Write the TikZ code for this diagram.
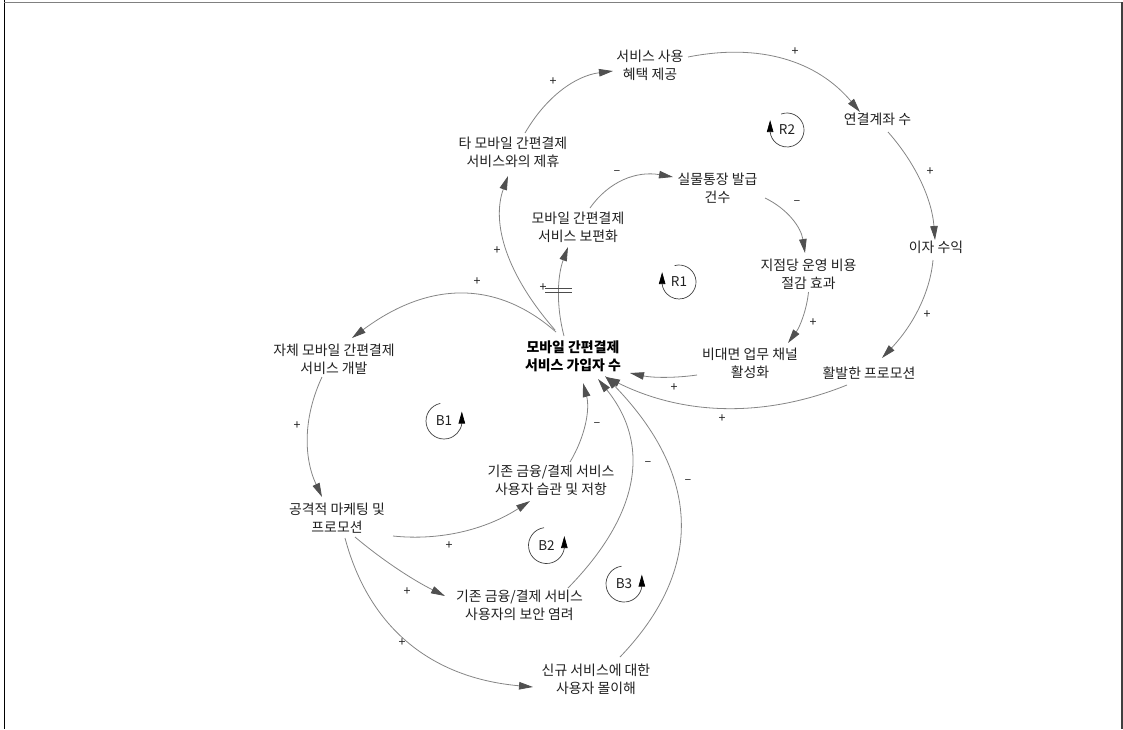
\documentclass[tikz,border=0pt]{standalone}
\usepackage{fontspec}
\setmainfont{Noto Sans CJK KR}
\usetikzlibrary{arrows.meta,calc}
\definecolor{linegray}{HTML}{858585}
\definecolor{headgray}{HTML}{505050}
\definecolor{txt}{HTML}{202020}
\begin{document}
\begin{tikzpicture}[x=1pt,y=-1pt,
  var/.style={align=center,inner sep=0pt,text=txt,font=\fontsize{13.9}{18}\selectfont},
  mainvar/.style={var,font=\fontsize{13.9}{18}\selectfont\bfseries,text=black},
  conn/.style={draw=linegray,line width=0.8pt,-{Triangle[length=14pt,width=7.5pt,color=headgray]}},
  sign/.style={inner sep=0pt,text=txt,font=\fontsize{12.5}{12.5}\selectfont},
  loopsym/.style={draw=black!75,line width=0.7pt,-{Triangle[length=12pt,width=6.5pt,color=black]}},
  looplab/.style={inner sep=0pt,text=txt,font=\fontsize{13.5}{13.5}\selectfont},
  delaymark/.style={draw=black!70,line width=0.7pt},
  frameline/.style={line width=1.2pt}]
\useasboundingbox (0,0) rectangle (1123,729);
% frame
\draw[frameline,draw=black] (4.7,0) -- (4.7,729);
\draw[frameline,draw=black!50] (4,2.7) -- (1123,2.7);
\draw[frameline,draw=black!75] (1122,2) -- (1122,729);

% variables
\node[var] (svc) at (650,65.5) {서비스 사용\\혜택 제공};
\node[var] (acct) at (877.5,119) {연결계좌 수};
\node[var] (tamob) at (513,152) {타 모바일 간편결제\\서비스와의 제휴};
\node[var] (phys) at (717.5,188.5) {실물통장 발급\\건수};
\node[var] (univ) at (578,227.5) {모바일 간편결제\\서비스 보편화};
\node[var] (intr) at (936,247) {이자 수익};
\node[var] (branch) at (808.5,274) {지점당 운영 비용\\절감 효과};
\node[mainvar] (main) at (573,356) {모바일 간편결제\\서비스 가입자 수};
\node[var] (nonface) at (750,363) {비대면 업무 채널\\활성화};
\node[var] (promo) at (869,373) {활발한 프로모션};
\node[var] (selfdev) at (334,359) {자체 모바일 간편결제\\서비스 개발};
\node[var] (habit) at (551,480) {기존 금융/결제 서비스\\사용자 습관 및 저항};
\node[var] (mkt) at (337,518.5) {공격적 마케팅 및\\프로모션};
\node[var] (secu) at (519.5,605.5) {기존 금융/결제 서비스\\사용자의 보안 염려};
\node[var] (mis) at (596,679) {신규 서비스에 대한\\사용자 몰이해};

% connectors
\draw[conn] ($(tamob)+(12,-19)$) .. controls (546.3,96.3) and (575.7,75.7) .. ($(svc)+(-37,5.5)$);
\draw[conn] ($(svc)+(38,-8.5)$) .. controls (760,42.7) and (817.3,61) .. ($(acct)+(-17.5,-7)$);
\draw[conn] ($(acct)+(10.5,13)$) .. controls (916.3,164) and (932,200) .. ($(intr)+(-1,-7)$);
\draw[conn] ($(intr)+(-3,13)$) .. controls (930,292.7) and (913,325.3) .. ($(promo)+(13,-15)$);
\draw[conn] ($(promo)+(-22,12)$) .. controls (765,418) and (684.3,415.7) .. ($(main)+(33,21)$);
\draw[conn] ($(nonface)+(-53,12)$) .. controls (674,378.3) and (651.7,377.7) .. ($(main)+(57,17)$);
\draw[conn] ($(branch)+(0,18)$) .. controls (806.7,309.7) and (800,326.7) .. ($(nonface)+(38,-20)$);
\draw[conn] ($(phys)+(47.5,9.5)$) .. controls (787.7,209) and (801,227.3) .. ($(branch)+(-3.5,-21)$);
\draw[conn] ($(univ)+(12,-19.5)$) .. controls (609,181) and (636.7,170.7) .. ($(phys)+(-44.5,-11.5)$);
\draw[conn] ($(main)+(-9,-20)$) .. controls (556,305.7) and (557.3,276) .. ($(univ)+(-10,19.5)$);
\draw[conn] ($(main)+(-18,-26)$) .. controls (506.7,274.7) and (491,223.3) .. ($(tamob)+(-5,24)$);
\draw[conn] ($(main)+(-17,-24)$) .. controls (496,279.3) and (428,281.3) .. ($(selfdev)+(18,-21)$);
\draw[conn] ($(selfdev)+(-12,18)$) .. controls (303.3,417) and (303.3,457) .. ($(mkt)+(-15,-21.5)$);
\draw[conn] ($(mkt)+(56,17.5)$) .. controls (440.7,541) and (486.3,529.3) .. ($(habit)+(-21,21)$);
\draw[conn] ($(mkt)+(18,18.5)$) .. controls (382.3,560) and (412.3,579.7) .. ($(secu)+(-74.5,-9.5)$);
\draw[conn] ($(mkt)+(8,19.5)$) .. controls (369,628.3) and (431.7,678) .. ($(mis)+(-63,8)$);
\draw[conn] ($(habit)+(19,-18)$) .. controls (585.7,435.7) and (590,408.7) .. ($(main)+(10,27)$);
\draw[conn] ($(secu)+(48.5,-17.5)$) .. controls (640.7,513.7) and (650.7,444) .. ($(main)+(25,23)$);
\draw[conn] ($(mis)+(24,-22)$) .. controls (705.3,568) and (700,474.3) .. ($(main)+(32,20)$);

% delay mark
\draw[delaymark] ($(main)+(-28,-68)$) -- ($(main)+(-1,-68)$);
\draw[delaymark] ($(main)+(-28,-64)$) -- ($(main)+(-1,-64)$);

% polarity signs
\node[sign] (s1) at (553,82) {+};
\node[sign] (s2) at (795,52) {+};
\node[sign] (s3) at (930,172) {+};
\node[sign] (s4) at (927,315) {+};
\node[sign] (s5) at (722,419) {+};
\node[sign] (s6) at (674,388) {+};
\node[sign] (s7) at (813,323) {+};
\node[sign] (s8) at (797,203) {–};
\node[sign] (s9) at (617,173) {–};
\node[sign] (s10) at (543,288) {+};
\node[sign] (s11) at (497,251) {+};
\node[sign] (s12) at (477,282) {+};
\node[sign] (s13) at (297,426) {+};
\node[sign] (s14) at (449,546) {+};
\node[sign] (s15) at (407,592) {+};
\node[sign] (s16) at (402,643) {+};
\node[sign] (s17) at (597,425) {–};
\node[sign] (s18) at (648,464) {–};
\node[sign] (s19) at (688,482) {–};

% loop symbols
\node[looplab] (R2) at (787,130) {R2};
\draw[loopsym] (787,130) ++(250:17) arc[start angle=250,end angle=533,radius=17] -- ++(0,-12);
\node[looplab] (R1) at (679,282) {R1};
\draw[loopsym] (679,282) ++(255:17) arc[start angle=255,end angle=533,radius=17] -- ++(0,-12);
\node[looplab] (B1) at (444,421) {B1};
\draw[loopsym] (444,421) ++(258:18) arc[start angle=258,end angle=8,radius=18] -- ++(0,-12);
\node[looplab] (B2) at (546.5,545.5) {B2};
\draw[loopsym] (546.5,545.5) ++(262:18) arc[start angle=262,end angle=8,radius=18] -- ++(0,-12);
\node[looplab] (B3) at (624,584) {B3};
\draw[loopsym] (624,584) ++(262:18) arc[start angle=262,end angle=8,radius=18] -- ++(0,-12);
\end{tikzpicture}
\end{document}
